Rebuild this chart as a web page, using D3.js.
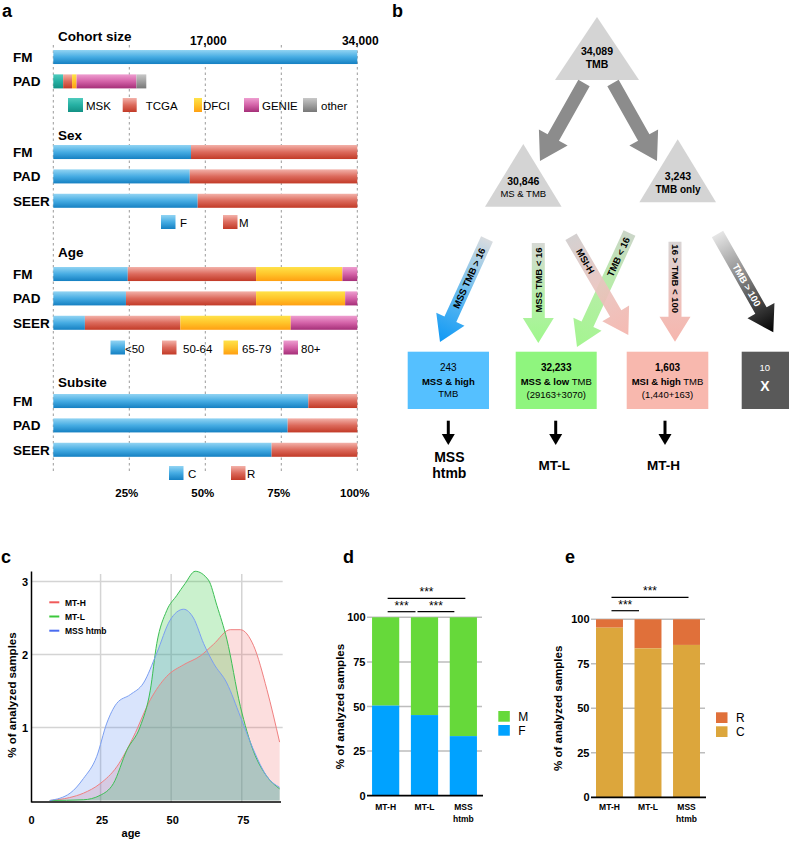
<!DOCTYPE html>
<html><head><meta charset="utf-8">
<script src="https://cdn.jsdelivr.net/npm/d3@7"></script>
<style>body{margin:0;background:#fff;} svg{display:block;font-family:"Liberation Sans",Arial,Helvetica,sans-serif;}</style>
</head><body><svg id="chart" width="789" height="841"></svg>
<script>
// ---------------- DATA ----------------
// panel a
const cohortRows = ["FM", "PAD"];
const cohortFM = 34089;
const padSources = ["MSK", "TCGA", "DFCI", "GENIE", "other"];
const padCounts = [1100, 1000, 500, 6700, 1100];
const cohortTicks = [17000, 34000];
const demoRows = ["FM", "PAD", "SEER"];
const sexCats = ["F", "M"];
const sexF = [45.3, 44.9, 47.5];
const ageCats = ["<50", "50-64", "65-79", "80+"];
const ageFM = [24.5, 42.2, 28.4, 4.9];
const agePAD = [23.9, 42.8, 29.3, 4.0];
const ageSEER = [10.4, 31.4, 36.3, 21.9];
const subsiteCats = ["C", "R"];
const subsiteC = [83.9, 77.1, 71.8];
const pctTicks = [25, 50, 75, 100];
// panel b
const triCounts = ["34,089", "30,846", "3,243"];
const triLabels = ["TMB", "MS & TMB", "TMB only"];
const ruleLabels = ["MSS TMB > 16", "MSS TMB < 16", "TMB < 16", "MSI-H", "16 > TMB < 100", "TMB > 100"];
const boxCounts = ["243", "32,233", "1,603", "10"];
const boxBold = ["MSS & high", "MSS & low", "MSI & high", "X"];
const boxPlain = ["TMB", " TMB", " TMB", ""];
const boxSplit = ["", "(29163+3070)", "(1,440+163)", ""];
const outLabels = [["MSS", "htmb"], ["MT-L"], ["MT-H"]];
// panel c (age, % of analyzed samples)
const densMTH = [[7,0],[14,0.04],[18.9,0.10],[24.8,0.23],[30.7,0.46],[36.6,0.87],[42.6,1.38],[48.4,1.70],[54.4,1.86],[60.3,1.98],[65,2.14],[70.9,2.34],[74.5,2.34],[79.2,2.12],[83.9,1.52],[88.4,0.80]];
const densMTL = [[7,0],[18.9,0.01],[24.8,0.07],[29.5,0.23],[34.3,0.69],[39,1.01],[42.6,1.51],[44.9,2.15],[48.4,2.60],[52,2.81],[54.9,2.97],[58.5,3.14],[63.2,3.02],[66.2,2.67],[69.7,2.21],[74.5,1.29],[79.2,0.67],[83.9,0.33],[88.4,0.16]];
const densMSS = [[7,0],[14.2,0.10],[18.9,0.30],[23.6,0.60],[27.2,1.06],[30.7,1.33],[35.5,1.45],[40.2,1.61],[44.9,2.02],[49.6,2.47],[54.4,2.62],[57.9,2.50],[61.5,2.15],[65,1.88],[69.7,1.61],[74.5,1.15],[79.2,0.69],[83.9,0.33],[88.4,0.18]];
const densNames = ["MT-H", "MT-L", "MSS htmb"];
const ageTicks = [0, 25, 50, 75];
const densTicks = [1, 2, 3];
// panels d, e
const groups = ["MT-H", "MT-L", "MSS htmb"];
const femalePct = [50.5, 45.2, 33.4];
const colonPct = [95.3, 83.7, 85.6];
const barTicks = [0, 25, 50, 75, 100];

// ---------------- SETUP ----------------
const svg = d3.select("#chart");
const defs = svg.append("defs");
function vgrad(id, stops) {
  const g = defs.append("linearGradient").attr("id", id).attr("x1", 0).attr("y1", 0).attr("x2", 0).attr("y2", 1);
  stops.forEach(([o, c]) => g.append("stop").attr("offset", o).attr("stop-color", c));
  return `url(#${id})`;
}
const C = {
  blue: vgrad("gBlue", [[0, "#92d4f3"], [0.5, "#46ace3"], [1, "#1580c2"]]),
  red: vgrad("gRed", [[0, "#f3b2aa"], [0.5, "#dc6a5c"], [1, "#c23a27"]]),
  teal: vgrad("gTeal", [[0, "#4fcbbd"], [0.5, "#25b0a3"], [1, "#139184"]]),
  yellow: vgrad("gYel", [[0, "#ffe24a"], [0.5, "#ffc52a"], [1, "#ff9f12"]]),
  mag: vgrad("gMag", [[0, "#ee9ed0"], [0.5, "#d462a8"], [1, "#a52f78"]]),
  gray: vgrad("gGray", [[0, "#c8c8c8"], [0.5, "#a0a0a0"], [1, "#777"]])
};
function txt(g, x, y, s, opts = {}) {
  return g.append("text").attr("x", x).attr("y", y).text(s)
    .attr("font-size", opts.size || 11).attr("font-weight", opts.bold ? "bold" : "normal")
    .attr("text-anchor", opts.anchor || "start").attr("fill", opts.fill || "#000");
}
// panel letters
[["a", 2, 17], ["b", 392, 17], ["c", 1, 563], ["d", 343, 563], ["e", 565, 563]]
  .forEach(([l, x, y]) => txt(svg, x, y, l, { size: 18, bold: true }));

// ---------------- PANEL A ----------------
const gA = svg.append("g");
const xA = d3.scaleLinear().domain([0, 100]).range([53.3, 357.3]);
const xN = d3.scaleLinear().domain([0, 34000]).range([53.3, 357.3]).clamp(true);
// dashed gridlines
gA.selectAll("line.grid").data([0, ...pctTicks]).join("line")
  .attr("x1", d => xA(d)).attr("x2", d => xA(d)).attr("y1", 45).attr("y2", 473)
  .attr("stroke", "#9a9a9a").attr("stroke-width", 1).attr("stroke-dasharray", "2.5,3");
cohortTicks.forEach(t => txt(gA, xN(t) + 3, 45, d3.format(",")(t), { size: 12, bold: true, anchor: "middle" }));
pctTicks.forEach(t => txt(gA, xA(t) - 2.5, 497, t + "%", { size: 11.5, bold: true, anchor: "middle" }));

function section(title, titleY, rows, y0, stacks, colorSets, scale) {
  txt(gA, 58, titleY, title, { size: 13.5, bold: true });
  const yb = d3.scaleBand().domain(rows).range([y0, y0 + (rows.length - 1) * 24.4 + 14]).paddingInner(0.424);
  rows.forEach((r, i) => {
    txt(gA, 13, yb(r) + yb.bandwidth() / 2 + 5, r, { size: 13.5, bold: true });
    let acc = 0;
    const colors = colorSets[i] || colorSets[0];
    stacks[i].forEach((v, j) => {
      gA.append("rect").attr("x", scale(acc)).attr("width", scale(acc + v) - scale(acc))
        .attr("y", yb(r)).attr("height", yb.bandwidth()).attr("fill", colors[j]);
      acc += v;
    });
  });
}
function legend(items, colors, boxXs, labelXs, y, widths) {
  items.forEach((it, i) => {
    gA.append("rect").attr("x", boxXs[i]).attr("y", y).attr("width", widths ? widths[i] : 14.5).attr("height", 14).attr("fill", colors[i]);
    txt(gA, labelXs[i], y + 12, it, { size: 11.5 });
  });
}
const srcColors = [C.teal, C.red, C.yellow, C.mag, C.gray];
const ageColors = [C.blue, C.red, C.yellow, C.mag];
section("Cohort size", 41, cohortRows, 50, [[cohortFM], padCounts], [[C.blue], srcColors], xN);
legend(padSources, srcColors, [68, 122.7, 194, 244, 303], [86, 145.7, 203, 262, 321], 98, [15, 14, 8, 15, 14]);

section("Sex", 140, demoRows, 145, sexF.map(f => [f, 100 - f]), [[C.blue, C.red]], xA);
legend(sexCats, [C.blue, C.red], [161, 223], [180, 239], 215);

section("Age", 257, demoRows, 267, [ageFM, agePAD, ageSEER], [ageColors], xA);
legend(ageCats, ageColors, [110.5, 162, 223.5, 283.5], [125, 183, 242, 301], 340.5);

section("Subsite", 386.5, demoRows, 394, subsiteC.map(c => [c, 100 - c]), [[C.blue, C.red]], xA);
legend(subsiteCats, [C.blue, C.red], [169, 231], [188, 247], 466);

// ---------------- PANEL B ----------------
const gB = svg.append("g");
const tris = [[597, 17, 80, 42], [523.3, 144, 206.7, 38.3], [677.7, 139.3, 202.3, 38.3]];
tris.forEach(([cx, ty, by, hw]) => gB.append("path")
  .attr("d", d3.line()([[cx, ty], [cx + hw, by], [cx - hw, by]]) + "Z").attr("fill", "#d4d4d4"));
txt(gB, 597, 55, triCounts[0], { size: 10.5, bold: true, anchor: "middle" });
txt(gB, 597, 68, triLabels[0], { size: 10.5, bold: true, anchor: "middle" });
txt(gB, 523.3, 185, triCounts[1], { size: 10.5, bold: true, anchor: "middle" });
txt(gB, 523.3, 196.7, triLabels[1], { size: 9.5, anchor: "middle" });
txt(gB, 678, 180, triCounts[2], { size: 10.5, bold: true, anchor: "middle" });
txt(gB, 678, 193, triLabels[2], { size: 10, bold: true, anchor: "middle" });

function arrowPts(x1, y1, x2, y2, sw, hw, hl) {
  const dx = x2 - x1, dy = y2 - y1, L = Math.hypot(dx, dy), ux = dx / L, uy = dy / L, px = -uy, py = ux;
  const bx = x2 - ux * hl, by = y2 - uy * hl;
  return [[x1 + px * sw / 2, y1 + py * sw / 2], [bx + px * sw / 2, by + py * sw / 2], [bx + px * hw / 2, by + py * hw / 2], [x2, y2],
  [bx - px * hw / 2, by - py * hw / 2], [bx - px * sw / 2, by - py * sw / 2], [x1 - px * sw / 2, y1 - py * sw / 2]];
}
function arrow(g, a, fill, sw = 13, hw = 31, hl = 26, op = 1) {
  g.append("path").attr("d", d3.line()(arrowPts(a[0], a[1], a[2], a[3], sw, hw, hl)) + "Z").attr("fill", fill).attr("opacity", op);
}
arrow(gB, [584, 83, 540, 161], "#8c8c8c", 13, 33, 27);
arrow(gB, [613, 83, 657, 161], "#8c8c8c", 13, 33, 27);

let gi = 0;
function lgrad(a, stops) {
  const id = "ag" + (gi++);
  const g = defs.append("linearGradient").attr("id", id).attr("gradientUnits", "userSpaceOnUse")
    .attr("x1", a[0]).attr("y1", a[1]).attr("x2", a[2]).attr("y2", a[3]);
  stops.forEach(([o, c]) => g.append("stop").attr("offset", o).attr("stop-color", c));
  return `url(#${id})`;
}
const rules = [
  { a: [487, 239, 440, 342], stops: [[0, "#d9dcdf"], [0.55, "#62baf0"], [1, "#0e98f5"]], t: 0.38, up: true, col: "#000" },
  { a: [538.3, 243, 538.3, 343], stops: [[0, "#d6d9d4"], [0.6, "#b4f0a6"], [1, "#9ff78c"]], t: 0.37, up: true, col: "#000" },
  { a: [629.5, 233, 577, 347], stops: [[0, "#cbd6c8"], [0.5, "#b6eea6"], [1, "#a4f590"]], t: 0.21, up: true, col: "#000" },
  { a: [571, 236.7, 628.3, 335], stops: [[0, "#d0cccc"], [0.5, "#e9c4bf"], [1, "#f4b4ac"]], t: 0.25, up: false, col: "#000" },
  { a: [675, 241.7, 675, 341.7], stops: [[0, "#d8d4d4"], [0.6, "#efc1bb"], [1, "#f6b6ae"]], t: 0.37, up: false, col: "#000" },
  { a: [717.5, 234, 773.3, 332.3], stops: [[0, "#e6e6e6"], [0.5, "#777"], [1, "#000"]], t: 0.52, up: false, col: "#fff" }
];
rules.forEach((r, i) => {
  arrow(gB, r.a, lgrad(r.a, r.stops), 13, 31, 25, i === 3 ? 0.92 : 1);
});
rules.forEach((r, i) => {
  const [x1, y1, x2, y2] = r.a;
  const cx = x1 + (x2 - x1) * r.t, cy = y1 + (y2 - y1) * r.t;
  let ang = Math.atan2(y2 - y1, x2 - x1) * 180 / Math.PI;
  if (r.up) ang -= 180;
  gB.append("text").attr("transform", `translate(${cx},${cy}) rotate(${ang})`).attr("dy", "0.35em")
    .attr("text-anchor", "middle").attr("font-size", 9.5).attr("font-weight", "bold").attr("fill", r.col).text(ruleLabels[i]);
});
// result boxes
const boxes = [[407.7, 489, "#55c0ff"], [515.7, 596.7, "#8ff57e"], [626.7, 708.3, "#f8b8ae"], [741.7, 789, "#595959"]];
boxes.forEach(([x0, x1, c], i) => {
  gB.append("rect").attr("x", x0).attr("y", 351.7).attr("width", x1 - x0).attr("height", 57.3).attr("fill", c);
  const cx = (x0 + x1) / 2;
  if (i === 3) {
    txt(gB, cx - 0.5, 371, boxCounts[i], { size: 9.5, anchor: "middle", fill: "#fff" });
    txt(gB, cx - 0.5, 391, boxBold[i], { size: 14, bold: true, anchor: "middle", fill: "#fff" });
    return;
  }
  txt(gB, cx, 371, boxCounts[i], { size: 10, bold: i > 0, anchor: "middle" });
  const t = gB.append("text").attr("x", cx).attr("y", i === 0 ? 385 : 384.5).attr("text-anchor", "middle").attr("font-size", 9.5);
  t.append("tspan").attr("font-weight", "bold").text(boxBold[i]);
  if (i > 0) t.append("tspan").text(boxPlain[i]);
  if (i === 0) txt(gB, cx, 397, boxPlain[i], { size: 9.5, anchor: "middle" });
  else txt(gB, cx, 397.5, boxSplit[i], { size: 9.5, anchor: "middle" });
});
// down arrows & outcome labels
[448.3, 555.7, 665].forEach((x, i) => {
  gB.append("line").attr("x1", x).attr("x2", x).attr("y1", 420.7).attr("y2", 436).attr("stroke", "#000").attr("stroke-width", 3);
  gB.append("path").attr("d", d3.line()([[x - 6.5, 434], [x + 6.5, 434], [x, 445]]) + "Z").attr("fill", "#000");
  const ls = outLabels[i];
  if (ls.length === 2) {
    txt(gB, x + 1, 461.7, ls[0], { size: 14, bold: true, anchor: "middle" });
    txt(gB, x + 1, 478.3, ls[1], { size: 14, bold: true, anchor: "middle" });
  } else txt(gB, x - 1.5, 470, ls[0], { size: 13.5, bold: true, anchor: "middle" });
});

// ---------------- PANEL C ----------------
const gC = svg.append("g");
const xC = d3.scaleLinear().domain([0, 89]).range([30, 281.3]);
const yC = d3.scaleLinear().domain([0, 3]).range([800.5, 581.5]);
gC.selectAll("line.h").data(densTicks).join("line").attr("x1", 31.5).attr("x2", 282.7)
  .attr("y1", d => yC(d)).attr("y2", d => yC(d)).attr("stroke", "#d4d4d4").attr("stroke-width", 1.5);
gC.selectAll("line.v").data(ageTicks.slice(1)).join("line").attr("x1", d => xC(d)).attr("x2", d => xC(d))
  .attr("y1", 574).attr("y2", 802).attr("stroke", "#d4d4d4").attr("stroke-width", 1.5);
const dSeries = [densMTH, densMTL, densMSS];
const fills = ["rgba(240,90,90,0.2)", "rgba(50,200,60,0.26)", "rgba(80,130,240,0.22)"];
const strokes = ["#f08080", "#3cbf55", "#7b9ff2"];
const area = d3.area().x(d => xC(d[0])).y0(yC(0)).y1(d => yC(d[1])).curve(d3.curveMonotoneX);
const lineG = d3.line().x(d => xC(d[0])).y(d => yC(d[1])).curve(d3.curveMonotoneX);
dSeries.forEach((s, i) => gC.append("path").attr("d", area(s)).attr("fill", fills[i]));
dSeries.forEach((s, i) => gC.append("path").attr("d", lineG(s)).attr("fill", "none").attr("stroke", strokes[i]).attr("stroke-width", 1));
gC.append("line").attr("x1", 31.5).attr("x2", 31.5).attr("y1", 571.5).attr("y2", 802.5).attr("stroke", "#000").attr("stroke-width", 1.5);
gC.append("line").attr("x1", 31.5).attr("x2", 281).attr("y1", 802).attr("y2", 802).attr("stroke", "#000").attr("stroke-width", 1.5);
densTicks.forEach(t => txt(gC, 28, yC(t) + 4, t, { size: 11, bold: true, anchor: "end" }));
ageTicks.forEach(t => txt(gC, xC(t) + 1.5, 824, t, { size: 11, bold: true, anchor: "middle" }));
txt(gC, 131, 837, "age", { size: 11, bold: true, anchor: "middle" });
gC.append("text").attr("transform", "translate(16,695) rotate(-90)").attr("text-anchor", "middle")
  .attr("font-size", 11.5).attr("font-weight", "bold").text("% of analyzed samples");
densNames.forEach((n, i) => {
  const y = 602.3 + i * 14.2;
  gC.append("line").attr("x1", 49.3).attr("x2", 59.3).attr("y1", y).attr("y2", y).attr("stroke", ["#f05a5a", "#3cc83c", "#4a6cf0"][i]).attr("stroke-width", 2);
  txt(gC, 65, y + 3.3, n, { size: 8.5, bold: true });
});

// ---------------- PANELS D, E ----------------
function stackedPanel(xr, yr, bottomPct, colBottom, colTop, legendX, legendY, legendLabels, sig, titleX) {
  const g = svg.append("g");
  const xb = d3.scaleBand().domain(groups).range(xr).paddingInner(0.3).paddingOuter(0.13);
  const yb = d3.scaleLinear().domain([0, 100]).range(yr);
  g.selectAll("line.g").data(barTicks.slice(1)).join("line").attr("x1", xr[0]).attr("x2", xr[1])
    .attr("y1", d => yb(d)).attr("y2", d => yb(d)).attr("stroke", "#bdbdbd").attr("stroke-width", 1.5);
  groups.forEach((k, i) => {
    g.append("rect").attr("x", xb(k)).attr("width", xb.bandwidth()).attr("y", yb(100)).attr("height", yb(bottomPct[i]) - yb(100)).attr("fill", colTop);
    g.append("rect").attr("x", xb(k)).attr("width", xb.bandwidth()).attr("y", yb(bottomPct[i])).attr("height", yb(0) - yb(bottomPct[i])).attr("fill", colBottom);
    const parts = k === "MSS htmb" ? ["MSS", "htmb"] : [k];
    parts.forEach((p, j) => txt(g, xb(k) + xb.bandwidth() / 2, 810 + j * 12.3, p, { size: 8.5, bold: true, anchor: "middle" }));
  });
  g.append("line").attr("x1", xr[0]).attr("x2", xr[1] + 1).attr("y1", yb(0)).attr("y2", yb(0)).attr("stroke", "#000").attr("stroke-width", 1.8);
  barTicks.forEach(t => txt(g, xr[0] - 1.5, yb(t) + 4, t, { size: 11, bold: true, anchor: "end" }));
  g.append("text").attr("transform", `translate(${titleX},${(yr[0] + yr[1]) / 2}) rotate(-90)`).attr("text-anchor", "middle")
    .attr("font-size", 11.5).attr("font-weight", "bold").text("% of analyzed samples");
  [colTop, colBottom].forEach((c, i) => {
    g.append("rect").attr("x", legendX).attr("y", legendY + i * 14).attr("width", 11.5).attr("height", 10.7).attr("fill", c);
    txt(g, legendX + 20, legendY + i * 14 + 9.8, legendLabels[i], { size: 12 });
  });
  sig.forEach(([a, b, y]) => {
    const x1 = xb(groups[a]) + xb.bandwidth() / 2, x2 = xb(groups[b]) + xb.bandwidth() / 2 - (b - a === 1 ? 11 : 0);
    const xs = b - a === 1 && a === 1 ? x1 - 9 : x1;
    g.append("line").attr("x1", xs + 2).attr("x2", x2 + 2).attr("y1", y).attr("y2", y).attr("stroke", "#000").attr("stroke-width", 1.2);
    txt(g, (xs + x2) / 2 + 2, y - 2, "***", { size: 12, anchor: "middle" });
  });
}
stackedPanel([367, 482], [795.7, 617.3], femalePct, "#00a2ff", "#66d93a", 498.3, 711, ["M", "F"],
  [[0, 2, 598.3], [0, 1, 611.7], [1, 2, 611.7]], 344);
stackedPanel([591, 705], [797.3, 619.3], colonPct, "#dca63c", "#e0703a", 716, 712.3, ["R", "C"],
  [[0, 2, 597.3], [0, 1, 610.7]], 562);
</script></body></html>
